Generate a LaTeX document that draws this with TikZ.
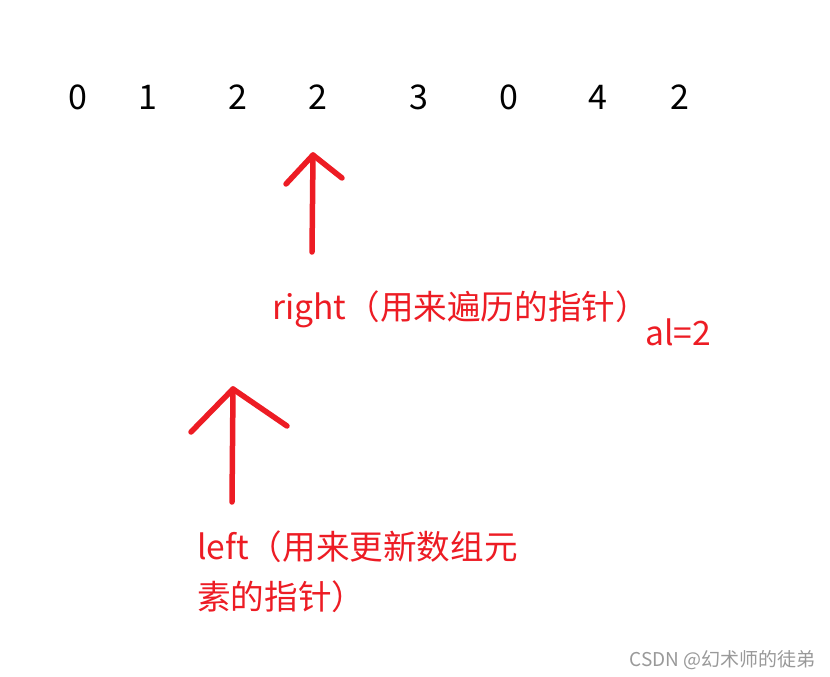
\documentclass[tikz,border=0pt]{standalone}
\usepackage{fontspec}
\setmainfont{Noto Sans CJK SC}
\begin{document}
\begin{tikzpicture}[x=1pt,y=-1pt,
  digit/.style={anchor=base,inner sep=0pt,font=\fontsize{34}{40}\selectfont},
  redtext/.style={anchor=base west,inner sep=0pt,text=myred,font=\fontsize{33.6}{40}\selectfont},
  ptr/.style={draw=myred,line width=5.5pt,line cap=round,line join=round}]
\definecolor{myred}{RGB}{237,28,36}
\useasboundingbox[fill=white] (0,0) rectangle (830,677);
% array digits
\node[digit] (d1) at (78,109) {0};
\node[digit] (d2) at (148,109) {1};
\node[digit] (d3) at (238,109) {2};
\node[digit] (d4) at (318,109) {2};
\node[digit] (d5) at (419,109) {3};
\node[digit] (d6) at (509,109) {0};
\node[digit] (d7) at (598,109) {4};
\node[digit] (d8) at (680,109) {2};
% right pointer
\coordinate (rtip) at (313,155);
\coordinate (rbot) at (312,252);
\coordinate (rl) at (286,184);
\coordinate (rr) at (342,178);
\draw[ptr] (rbot) -- (rtip);
\draw[ptr] (rl) -- (rtip) -- (rr);
% left pointer
\coordinate (ltip) at (233,389);
\coordinate (lbot) at (232,502);
\coordinate (ll) at (191,432);
\coordinate (lr) at (287,426);
\draw[ptr] (lbot) -- (ltip);
\draw[ptr] (ll) -- (ltip) -- (lr);
% labels
\node[redtext] (rlab) at (272,319) {right（用来遍历的指针）};
\node[redtext] (al) at (645,345) {al=2};
\node[redtext] (llab1) at (197,559) {left（用来更新数组元};
\node[redtext] (llab2) at (197,609) {素的指针）};
% watermark
\node[anchor=base east,inner sep=0pt,text=black!40,font=\fontsize{19}{22}\selectfont] (wm) at (816,666) {CSDN @幻术师的徒弟};
\end{tikzpicture}
\end{document}
